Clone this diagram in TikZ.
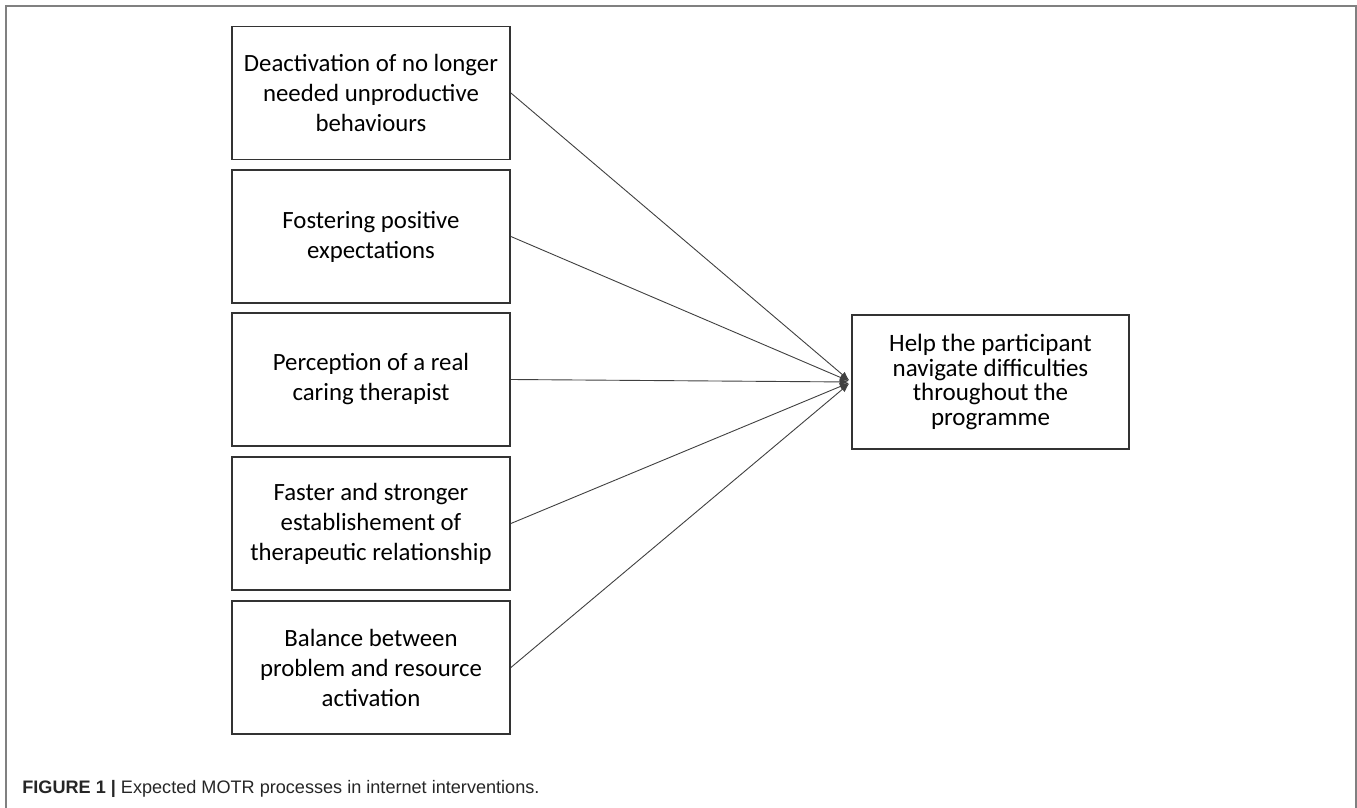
\documentclass[tikz,border=0pt]{standalone}
\usepackage{fontspec}
\setmainfont{Carlito}
\newfontfamily\capfont{Liberation Sans}
\usepackage{tikz}
\usetikzlibrary{arrows.meta}

\begin{document}
\begin{tikzpicture}[x=0.5pt,y=-0.5pt,
  procbox/.style={draw=black!80, line width=0.9pt, minimum width=139pt, minimum height=66.5pt,
    inner sep=0pt, align=center, font=\fontsize{12.4}{15}\selectfont},
  goalbox/.style={procbox, minimum width=138.5pt, minimum height=67pt,
    font=\fontsize{12.5}{12.3}\selectfont},
  link/.style={draw=black!75, line width=0.45pt, shorten >=1.2pt,
    -{Latex[length=4.5pt,width=3.6pt]}}]
\useasboundingbox (0,0) rectangle (1357,808);
\draw[black!50, line width=1pt] (6,812)--(6,6)--(1356,6)--(1356,812);

\node[procbox] (deact) at (371,93) {Deactivation of no longer\\needed unproductive\\behaviours};
\node[procbox] (foster) at (371,236.5) {Fostering positive\\expectations};
\node[procbox] (percep) at (371,379.5) {Perception of a real\\caring therapist};
\node[procbox] (faster) at (371,523.5) {Faster and stronger\\establishement of\\therapeutic relationship};
\node[procbox] (balance) at (371,667.5) {Balance between\\problem and resource\\activation};

\node[goalbox] (help) at (990.5,382) {Help the participant\\navigate difficulties\\throughout the\\programme};

\foreach \from in {deact,foster,percep,faster,balance}
  \draw[link] (\from.east) -- (help.west);

\node[anchor=base west, inner sep=0pt, text=black!85, font=\capfont\fontsize{9.05}{10}\selectfont] (caption) at (22,793)
  {\textbf{FIGURE 1 |} Expected MOTR processes in internet interventions.};
\end{tikzpicture}
\end{document}
